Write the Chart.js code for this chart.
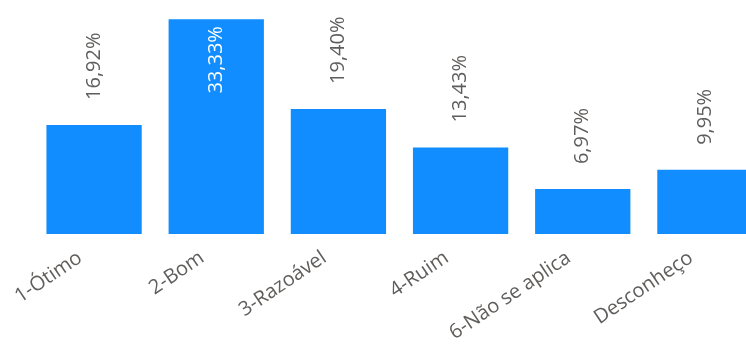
<!DOCTYPE html>
<html>
<head>
<meta charset="utf-8">
<script src="https://cdn.jsdelivr.net/npm/chart.js@4/dist/chart.umd.min.js"></script>
<style>
html,body{margin:0;padding:0;background:#fff;overflow:hidden;width:746px;height:345px;}
#wrap{position:absolute;left:0;top:0;width:766px;height:345px;}
</style>
</head>
<body>
<div id="wrap"><canvas id="c"></canvas></div>
<script>
const categories = ['1-Ótimo', '2-Bom', '3-Razoável', '4-Ruim', '6-Não se aplica', 'Desconheço'];
const percentValues = [16.92, 33.33, 19.40, 13.43, 6.97, 9.95];
const yMax = 36.3;

const FONT = '"Open Sans", "Noto Sans", sans-serif';

function fmt(v){ return v.toFixed(2).replace('.', ',') + '%'; }

const barLabels = {
  id: 'barLabels',
  afterDatasetsDraw(chart){
    const ctx = chart.ctx;
    const meta = chart.getDatasetMeta(0);
    const area = chart.chartArea;
    ctx.save();
    ctx.font = '20px ' + FONT;
    ctx.textBaseline = 'middle';
    meta.data.forEach((bar, i) => {
      const txt = fmt(percentValues[i]);
      const w = ctx.measureText(txt).width;
      const gapOut = 25;
      const x = bar.x;
      ctx.save();
      if (bar.y - gapOut - w < area.top) {
        ctx.translate(x, bar.y + 7);
        ctx.rotate(-Math.PI/2);
        ctx.textAlign = 'right';
        ctx.fillStyle = '#ffffff';
      } else {
        ctx.translate(x, bar.y - gapOut);
        ctx.rotate(-Math.PI/2);
        ctx.textAlign = 'left';
        ctx.fillStyle = '#605E5C';
      }
      ctx.fillText(txt, 0, 0);
      ctx.restore();
    });
    ctx.restore();
  }
};

new Chart(document.getElementById('c'), {
  type: 'bar',
  data: {
    labels: categories,
    datasets: [{
      data: percentValues,
      backgroundColor: '#118DFF',
      borderWidth: 0,
      categoryPercentage: 1,
      barPercentage: 0.78
    }]
  },
  options: {
    responsive: true,
    maintainAspectRatio: false,
    animation: false,
    layout: { padding: { left: 33, right: 0, top: 0, bottom: 0 } },
    plugins: { legend: { display: false }, tooltip: { enabled: false } },
    scales: {
      x: {
        grid: { display: false },
        border: { display: false },
        ticks: {
          autoSkip: false,
          minRotation: 34,
          maxRotation: 34,
          color: '#605E5C',
          font: { family: FONT, size: 20 },
          padding: 4,
          labelOffset: -14
        },
        afterFit(scale){ scale.height = 111; }
      },
      y: {
        display: false,
        min: 0,
        max: yMax
      }
    }
  },
  plugins: [barLabels]
});
</script>
</body>
</html>
